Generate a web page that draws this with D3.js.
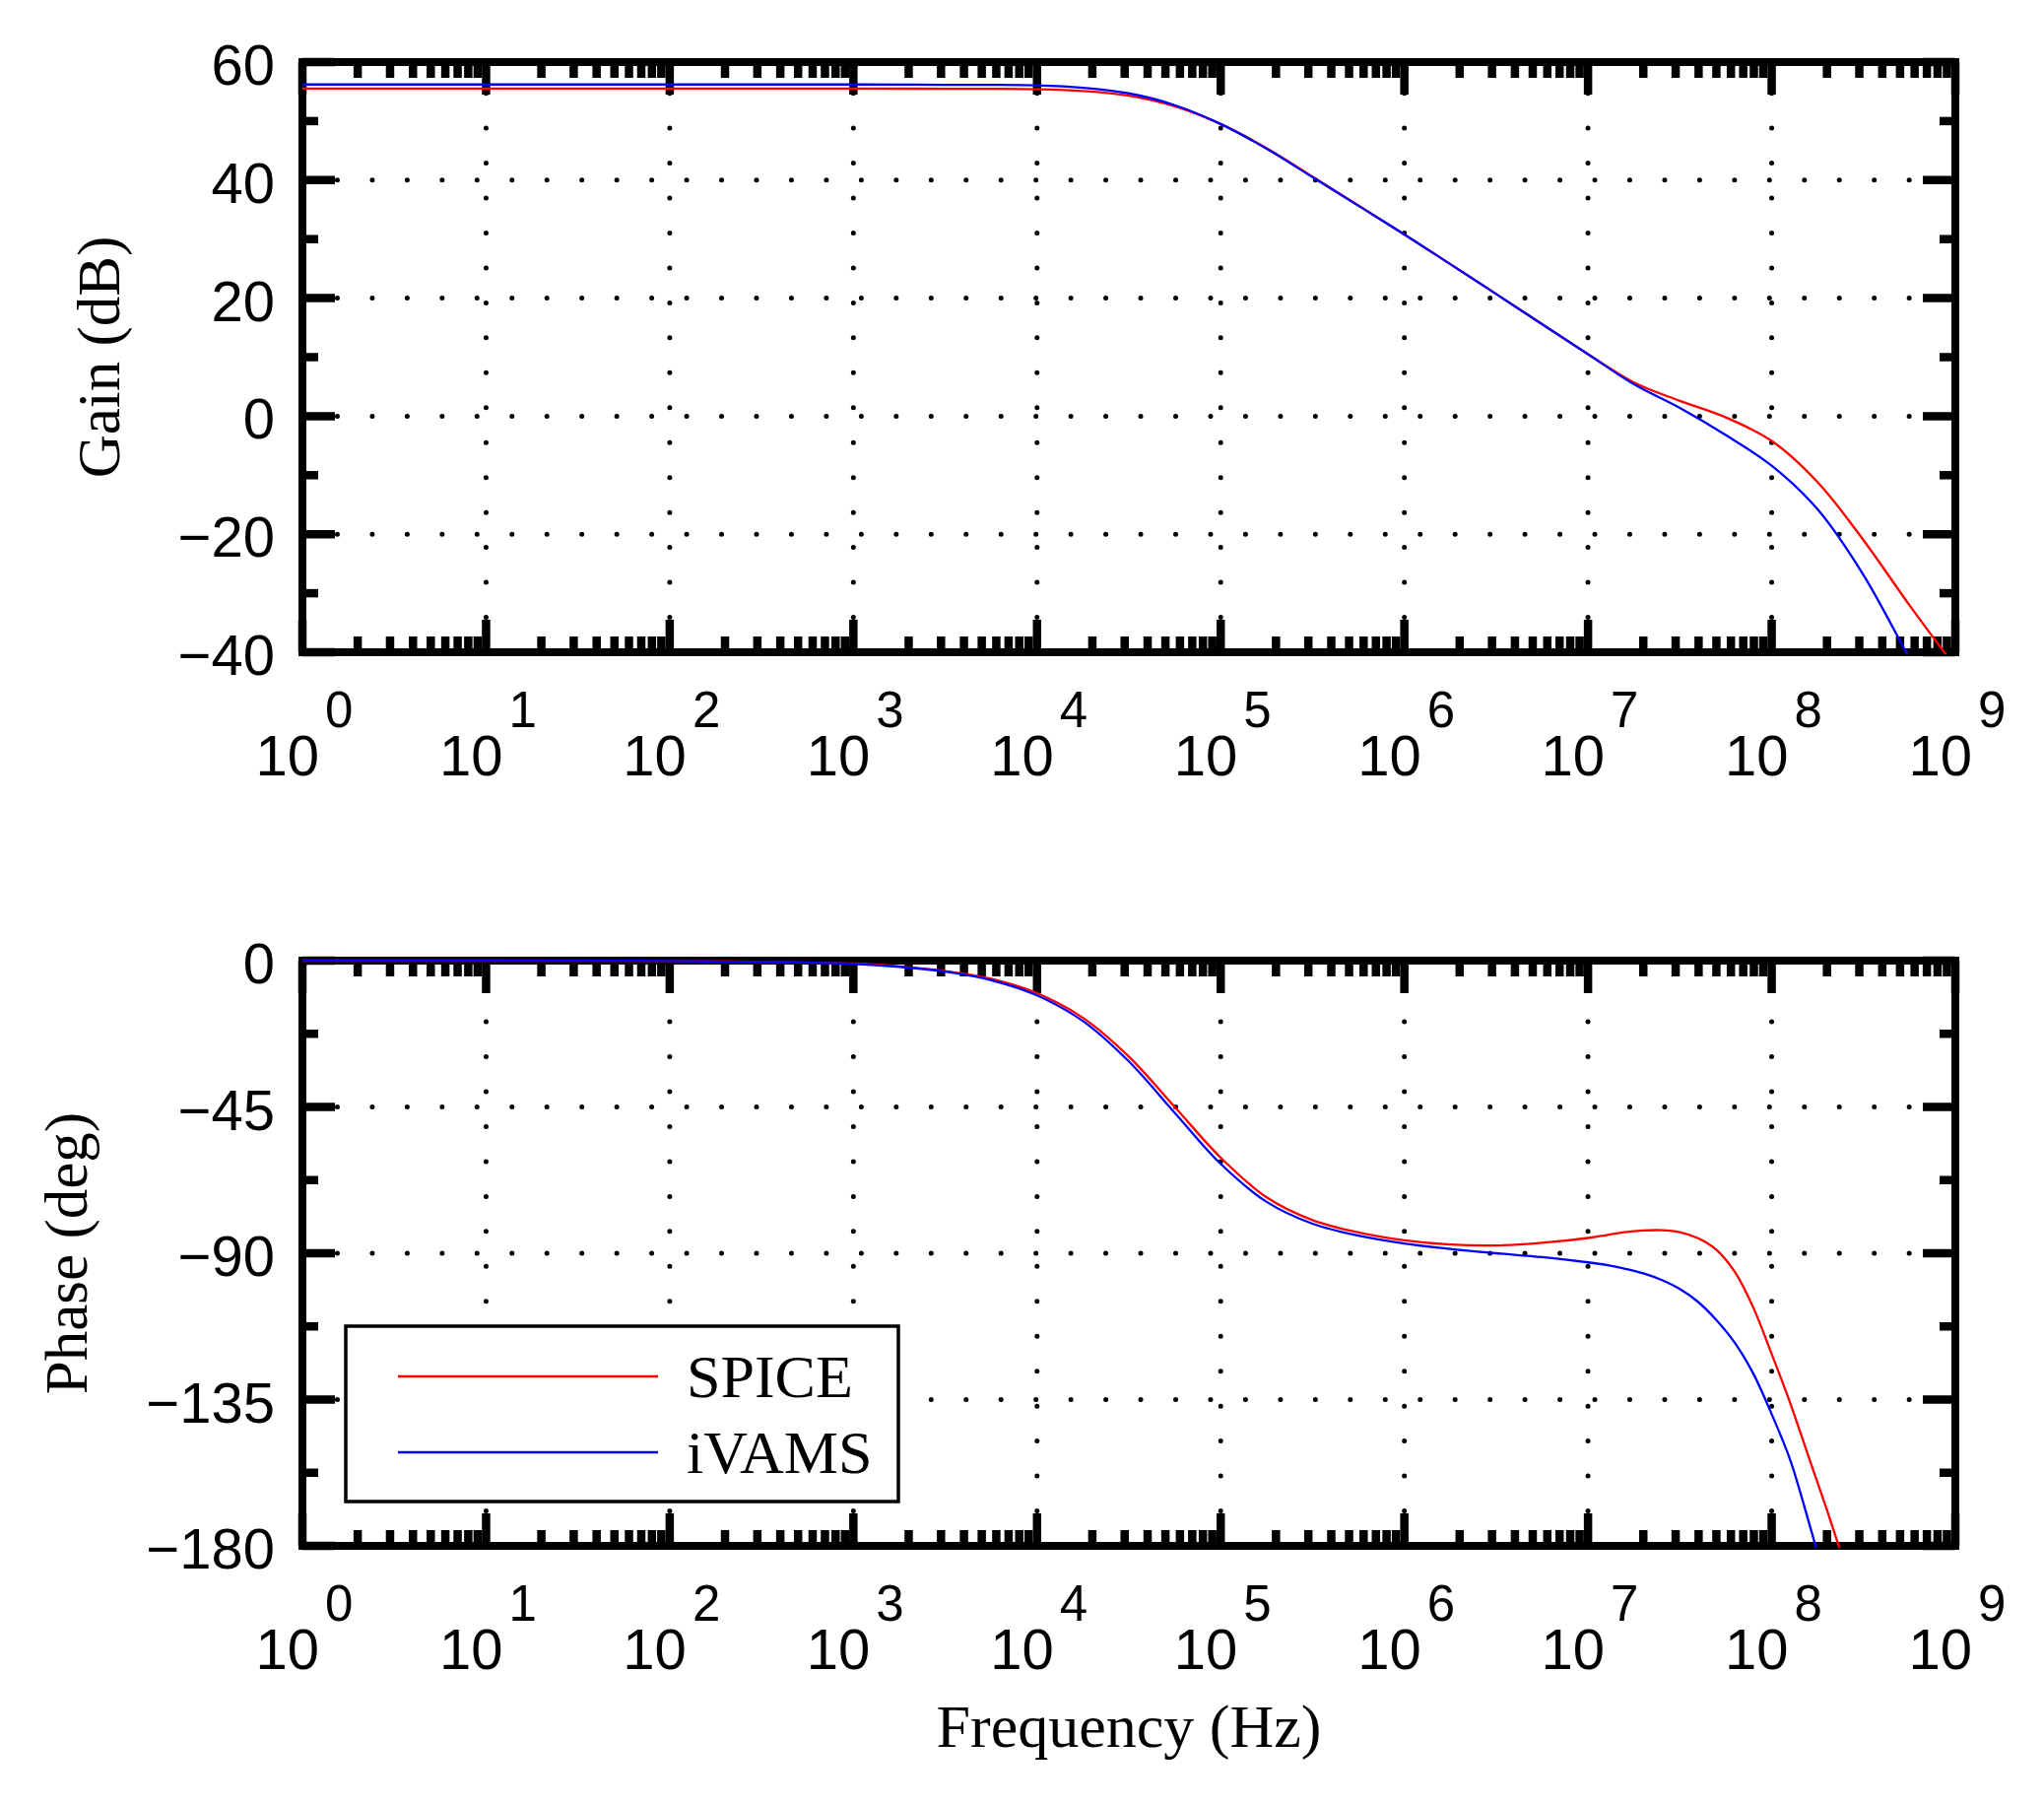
<!DOCTYPE html>
<html>
<head>
<meta charset="utf-8">
<script src="https://cdn.jsdelivr.net/npm/d3@7"></script>
<style>
    body { margin: 0; background: #fff; }
</style>
</head>
<body>
<script>
// ---------------- DATOS ----------------
var frecGanancia = [1e0, 1e1, 1e2, 1e3, 3.16e3, 1e4, 1.78e4, 3.16e4, 5.62e4, 1e5, 1.78e5, 3.16e5, 5.62e5,
    1e6, 1.78e6, 3.16e6, 5.62e6, 1e7, 1.78e7, 3.16e7, 5.62e7, 1e8, 1.78e8, 3.16e8, 5.62e8, 1e9];
var gananciaSpice = [55.5, 55.5, 55.5, 55.5, 55.48, 55.4, 55.1, 54.3, 52.5, 49.5, 45.4, 40.6, 35.7,
    30.8, 25.75, 20.7, 15.6, 10.5, 5.7, 2.6, -0.2, -4.2, -11.2, -21.0, -32.0, -42.5];
var gananciaIvams = [56.2, 56.2, 56.2, 56.2, 56.15, 56.05, 55.65, 54.7, 52.7, 49.5, 45.3, 40.5, 35.65,
    30.8, 25.75, 20.7, 15.6, 10.5, 5.4, 1.4, -3.2, -8.4, -15.8, -26.9, -41.0, -55.0];

var frecFase = [1e0, 1e1, 1e2, 1e3, 1.78e3, 3.16e3, 5.62e3, 1e4, 1.78e4, 3.16e4, 5.62e4, 1e5, 1.78e5,
    3.16e5, 5.62e5, 1e6, 1.78e6, 3.16e6, 5.62e6, 1e7, 1.26e7, 1.58e7, 2e7, 2.51e7, 3.16e7, 3.98e7,
    5.01e7, 6.31e7, 7.94e7, 1e8, 1.26e8, 1.58e8, 2e8, 2.51e8];
var faseSpice = [0, 0, -0.1, -0.9, -1.8, -3.2, -5.6, -10.0, -17.6, -29.5, -45.0, -60.6, -72.8,
    -79.8, -83.6, -86.0, -87.3, -87.6, -86.8, -85.3, -84.4, -83.5, -83.0, -82.9, -83.5, -85.4,
    -89.0, -95.8, -106.7, -121.0, -136.0, -152.2, -169.0, -186.0];
var faseIvams = [0, 0, -0.1, -1.0, -1.9, -3.4, -6.0, -10.7, -18.6, -31.0, -46.8, -62.5, -74.2,
    -80.9, -84.6, -87.0, -88.7, -90.0, -91.2, -92.8, -93.6, -94.7, -96.2, -98.2, -101.0, -105.0,
    -110.6, -117.6, -127.0, -139.5, -153.5, -172.0, -193.0, -215.0];

var ticksGanancia = [-40, -20, 0, 20, 40, 60];
var ticksFase = [-180, -135, -90, -45, 0];
var decadas = [1e0, 1e1, 1e2, 1e3, 1e4, 1e5, 1e6, 1e7, 1e8, 1e9];
var nombresSeries = ['SPICE', 'iVAMS'];
var coloresSeries = ['#ff0000', '#0000ff'];

// ---------------- TAMAÑO ----------------
var ancho = 2075, alto = 1832;
var izq = 307, der = 1985;
var fuenteEjes = '"Liberation Sans", Arial, Helvetica, sans-serif';
var fuenteTitulos = '"Liberation Serif", "Times New Roman", serif';

var svg = d3.select('body').append('svg')
    .attr('width', ancho)
    .attr('height', alto);

svg.append('rect').attr('width', ancho).attr('height', alto).attr('fill', '#fff');

var scale_x = d3.scaleLog().domain([1, 1e9]).range([izq, der]);

// ticks menores del eje X (2..9 en cada decada)
var menoresX = scale_x.ticks().filter(function (v) {
    var l = Math.log10(v);
    return Math.abs(l - Math.round(l)) > 1e-6;
});

function panel(id, arriba, abajo, dominio, ticksY, frec, series, titulo, tituloX) {
    var scale_y = d3.scaleLinear().domain(dominio).range([abajo, arriba]);
    var g = svg.append('g').attr('id', id);

    // recorte del area del grafico
    svg.append('clipPath').attr('id', 'clip_' + id)
        .append('rect')
        .attr('x', izq).attr('y', arriba - 2)
        .attr('width', der - izq).attr('height', abajo - arriba + 4);

    // GRILLA punteada
    var interiorY = ticksY.slice(1, ticksY.length - 1);
    g.selectAll('.gridH').data(interiorY).enter().append('line')
        .attr('x1', izq).attr('x2', der)
        .attr('y1', function (d) { return scale_y(d); })
        .attr('y2', function (d) { return scale_y(d); })
        .attr('stroke', '#000').attr('stroke-width', 5)
        .attr('stroke-linecap', 'round').attr('stroke-dasharray', '0.01,35.45');

    var interiorX = decadas.slice(1, decadas.length - 1);
    g.selectAll('.gridV').data(interiorX).enter().append('line')
        .attr('x1', function (d) { return scale_x(d); })
        .attr('x2', function (d) { return scale_x(d); })
        .attr('y1', abajo).attr('y2', arriba)
        .attr('stroke', '#000').attr('stroke-width', 5)
        .attr('stroke-linecap', 'round').attr('stroke-dasharray', '0.01,35.45');

    // TICKS (hacia adentro, en los cuatro lados)
    var largoMayor = 33, largoMenor = 16, grosor = 8.5;
    var ticks = g.append('g').attr('stroke', '#000').attr('stroke-width', grosor);

    decadas.forEach(function (d) {
        var x = scale_x(d);
        ticks.append('line').attr('x1', x).attr('x2', x).attr('y1', abajo).attr('y2', abajo - largoMayor);
        ticks.append('line').attr('x1', x).attr('x2', x).attr('y1', arriba).attr('y2', arriba + largoMayor);
    });
    menoresX.forEach(function (d) {
        var x = scale_x(d);
        ticks.append('line').attr('x1', x).attr('x2', x).attr('y1', abajo).attr('y2', abajo - largoMenor);
        ticks.append('line').attr('x1', x).attr('x2', x).attr('y1', arriba).attr('y2', arriba + largoMenor);
    });

    var menoresY = d3.pairs(ticksY).map(function (p) { return (p[0] + p[1]) / 2; });
    ticksY.forEach(function (d) {
        var y = scale_y(d);
        ticks.append('line').attr('x1', izq).attr('x2', izq + largoMayor).attr('y1', y).attr('y2', y);
        ticks.append('line').attr('x1', der).attr('x2', der - largoMayor).attr('y1', y).attr('y2', y);
    });
    menoresY.forEach(function (d) {
        var y = scale_y(d);
        ticks.append('line').attr('x1', izq).attr('x2', izq + largoMenor).attr('y1', y).attr('y2', y);
        ticks.append('line').attr('x1', der).attr('x2', der - largoMenor).attr('y1', y).attr('y2', y);
    });

    // MARCO
    g.append('rect')
        .attr('x', izq).attr('y', arriba)
        .attr('width', der - izq).attr('height', abajo - arriba)
        .attr('fill', 'none').attr('stroke', '#000').attr('stroke-width', 8);

    // ETIQUETAS eje Y
    g.selectAll('.etiquetaY').data(ticksY).enter().append('text')
        .attr('x', 279)
        .attr('y', function (d) { return scale_y(d) + 23; })
        .attr('text-anchor', 'end')
        .attr('font-family', fuenteEjes)
        .attr('font-size', 58)
        .text(function (d) { return d < 0 ? '\u2212' + Math.abs(d) : String(d); });

    // ETIQUETAS eje X (10^n)
    decadas.forEach(function (d) {
        var x = scale_x(d);
        g.append('text')
            .attr('x', x + 17)
            .attr('y', abajo + 125)
            .attr('text-anchor', 'end')
            .attr('font-family', fuenteEjes)
            .attr('font-size', 58)
            .text('10');
        g.append('text')
            .attr('x', x + 23)
            .attr('y', abajo + 76)
            .attr('font-family', fuenteEjes)
            .attr('font-size', 51)
            .text(String(Math.round(Math.log10(d))));
    });

    // TITULO eje Y
    g.append('text')
        .attr('transform', 'translate(' + titulo.x + ',' + ((arriba + abajo) / 2) + ') rotate(-90)')
        .attr('text-anchor', 'middle')
        .attr('font-family', fuenteTitulos)
        .attr('font-size', 61)
        .text(titulo.texto);

    if (tituloX) {
        g.append('text')
            .attr('x', (izq + der) / 2)
            .attr('y', abajo + 204)
            .attr('text-anchor', 'middle')
            .attr('font-family', fuenteTitulos)
            .attr('font-size', 62)
            .text(tituloX);
    }

    // LINEAS de las series
    var line = d3.line()
        .x(function (d) { return scale_x(d[0]); })
        .y(function (d) { return scale_y(d[1]); })
        .curve(d3.curveCatmullRom.alpha(0.5));

    var curvas = svg.append('g').attr('clip-path', 'url(#clip_' + id + ')');
    series.forEach(function (valores, i) {
        curvas.append('path')
            .attr('d', line(d3.zip(frec, valores)))
            .attr('fill', 'none')
            .attr('stroke', coloresSeries[i])
            .attr('stroke-width', 2.3)
            .attr('stroke-linejoin', 'round');
    });
}

panel('ganancia', 63, 662, [-40, 60], ticksGanancia, frecGanancia,
    [gananciaSpice, gananciaIvams], { texto: 'Gain (dB)', x: 121 }, null);

panel('fase', 975, 1569, [-180, 0], ticksFase, frecFase,
    [faseSpice, faseIvams], { texto: 'Phase (deg)', x: 88 }, 'Frequency (Hz)');

// ---------------- LEYENDA ----------------
var leyenda = svg.append('g');
leyenda.append('rect')
    .attr('x', 351).attr('y', 1346)
    .attr('width', 561).attr('height', 178)
    .attr('fill', '#fff').attr('stroke', '#000').attr('stroke-width', 3.5);

nombresSeries.forEach(function (nombre, i) {
    var y = 1397 + i * 77;
    leyenda.append('line')
        .attr('x1', 404).attr('x2', 668)
        .attr('y1', y).attr('y2', y)
        .attr('stroke', coloresSeries[i]).attr('stroke-width', 2.3);
    leyenda.append('text')
        .attr('x', 697).attr('y', y + 21)
        .attr('font-family', fuenteTitulos)
        .attr('font-size', 62)
        .text(nombre);
});
</script>
</body>
</html>
